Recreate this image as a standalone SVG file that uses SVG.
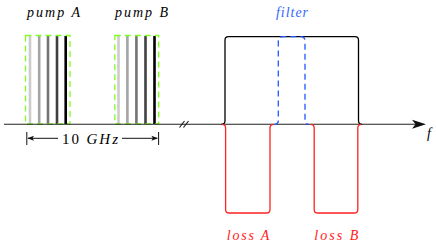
<svg xmlns="http://www.w3.org/2000/svg" width="436" height="246" viewBox="0 0 436 246">
<style>
.lbl{font-family:"Liberation Serif","DejaVu Serif",serif;font-style:italic;font-size:14px}
.bar{stroke-width:2.6;fill:none}
.pbox{fill:none;stroke:#80ff20;stroke-width:1.3;stroke-dasharray:6 4}
.ax{stroke:#222;stroke-width:1.1;fill:none}
.blk{stroke:#000;stroke-width:1.3;fill:none}
.red{stroke:#ff2020;stroke-width:1.3;fill:none}
.blu{stroke:#2255ff;stroke-width:1.3;fill:none;stroke-dasharray:6 4}
</style>
<rect width="436" height="246" fill="#fff"/>
<g id="pumpA">
<line class="bar" x1="30" y1="36" x2="30" y2="124" stroke="#cccccc"/>
<line class="bar" x1="39.2" y1="36" x2="39.2" y2="124" stroke="#a4a4a4"/>
<line class="bar" x1="48" y1="36" x2="48" y2="124" stroke="#747474"/>
<line class="bar" x1="57" y1="36" x2="57" y2="124" stroke="#404040"/>
<line class="bar" x1="65.7" y1="36" x2="65.7" y2="124" stroke="#000"/>
<rect class="pbox" x="25.5" y="35.5" width="44.5" height="88.5"/>
<text class="lbl" x="27" y="17" textLength="53" lengthAdjust="spacing">pump A</text>
</g>
<g id="pumpB">
<line class="bar" x1="118.5" y1="36" x2="118.5" y2="124" stroke="#cccccc"/>
<line class="bar" x1="127.4" y1="36" x2="127.4" y2="124" stroke="#a4a4a4"/>
<line class="bar" x1="136.4" y1="36" x2="136.4" y2="124" stroke="#747474"/>
<line class="bar" x1="145.5" y1="36" x2="145.5" y2="124" stroke="#404040"/>
<line class="bar" x1="154.5" y1="36" x2="154.5" y2="124" stroke="#000"/>
<rect class="pbox" x="114.8" y="35.5" width="43.9" height="88.5"/>
<text class="lbl" x="115" y="17" textLength="53" lengthAdjust="spacing">pump B</text>
</g>
<g id="connectors">
<line class="ax" x1="4" y1="124.3" x2="416" y2="124.3"/>
<path d="M426,124.3 L412,119.8 L415.5,124.3 L412,128.8 Z" fill="#111"/>
<line x1="179.5" y1="127.5" x2="184.5" y2="121" stroke="#111" stroke-width="1.1"/>
<line x1="183.5" y1="127.5" x2="188.5" y2="121" stroke="#111" stroke-width="1.1"/>
<line x1="26.8" y1="132" x2="26.8" y2="145" stroke="#111" stroke-width="1"/>
<line x1="28" y1="138.3" x2="58" y2="138.3" stroke="#111" stroke-width="1"/>
<path d="M27.3,138.3 L34,135.8 L32.5,138.3 L34,140.8 Z" fill="#111"/>
<line x1="158.6" y1="132" x2="158.6" y2="145" stroke="#111" stroke-width="1"/>
<line x1="122" y1="138.3" x2="157" y2="138.3" stroke="#111" stroke-width="1"/>
<path d="M158.1,138.3 L151.4,135.8 L152.9,138.3 L151.4,140.8 Z" fill="#111"/>
</g>
<g id="dim">
<text x="62" y="143.5" font-family="'Liberation Serif','DejaVu Serif',serif" font-size="15" textLength="56" lengthAdjust="spacing">10 <tspan font-style="italic">GHz</tspan></text>
</g>
<g id="axisLabel">
<text class="lbl" x="427" y="138" font-size="15">f</text>
</g>
<g id="gain">
<path class="blk" d="M221.5,124.3 Q225,124.3 225,120.8 L225,40.2 Q225,36.7 228.5,36.7 L355,36.7 Q358.5,36.7 358.5,40.2 L358.5,120.8 Q358.5,124.3 362,124.3"/>
</g>
<g id="filter">
<path class="blu" d="M274.5,124.3 Q278.3,124.3 278.3,120.5 L278.3,41 Q278.3,36.7 282.6,36.7 L300.7,36.7 Q305,36.7 305,41 L305,120.5 Q305,124.3 308.8,124.3"/>
<text class="lbl" x="276" y="17" fill="#3366ff" textLength="32" lengthAdjust="spacing">filter</text>
</g>
<g id="lossA">
<path class="red" d="M222,124.3 Q225.6,124.3 225.6,127.9 L225.6,209.4 Q225.6,213 229.2,213 L266.4,213 Q270,213 270,209.4 L270,127.9 Q270,124.3 273.6,124.3"/>
<text class="lbl" x="226.7" y="240" fill="#ff2020" textLength="42.6" lengthAdjust="spacing">loss A</text>
</g>
<g id="lossB">
<path class="red" d="M310.6,124.3 Q314.2,124.3 314.2,127.9 L314.2,209.4 Q314.2,213 317.8,213 L354.2,213 Q357.8,213 357.8,209.4 L357.8,127.9 Q357.8,124.3 361.4,124.3"/>
<text class="lbl" x="314.3" y="240" fill="#ff2020" textLength="44" lengthAdjust="spacing">loss B</text>
</g>
</svg>
